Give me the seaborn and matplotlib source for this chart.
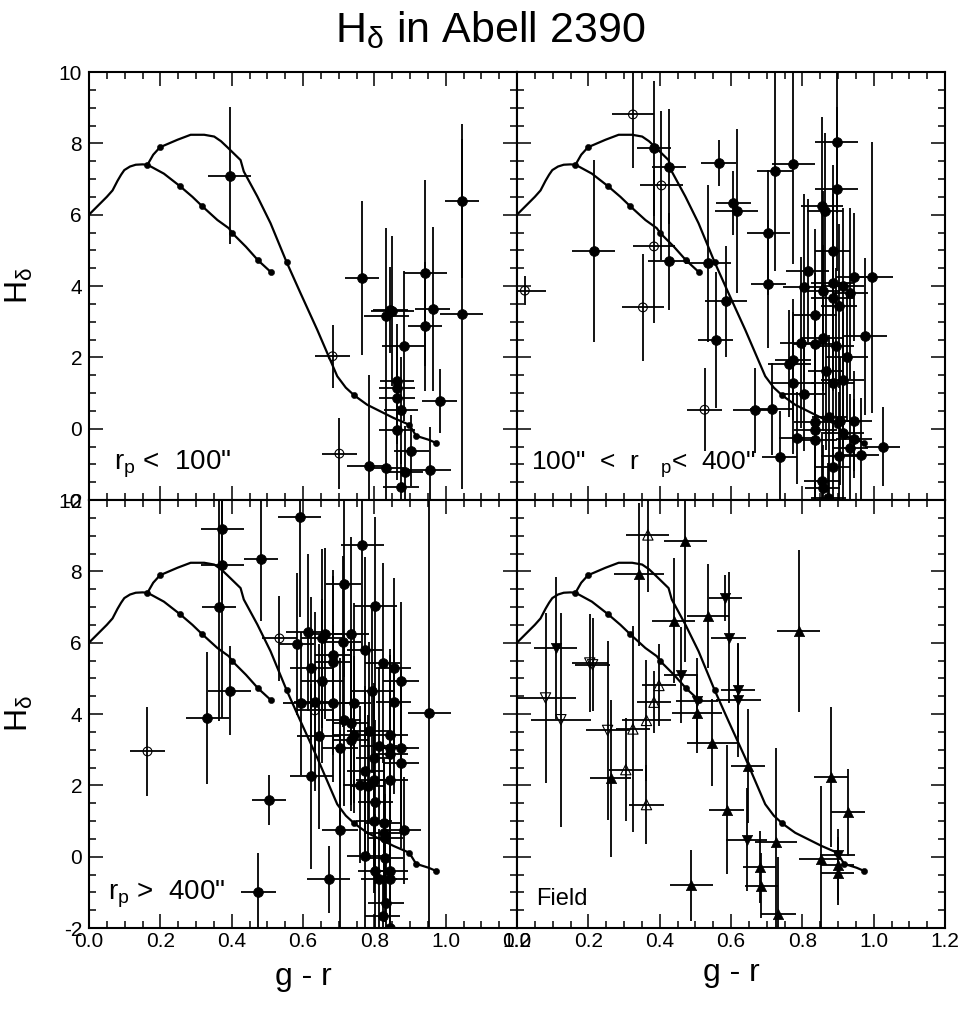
import numpy as np
import pandas as pd
import seaborn as sns
import matplotlib
matplotlib.use('Agg')
import matplotlib.pyplot as plt
from matplotlib.ticker import MultipleLocator, FormatStrFormatter

sns.set_style('ticks')
plt.rcParams['font.family'] = ['Liberation Sans', 'DejaVu Sans']
plt.rcParams['axes.unicode_minus'] = False
plt.rcParams['mathtext.default'] = 'regular'
for k in ['text.color', 'axes.labelcolor', 'xtick.color', 'ytick.color', 'axes.edgecolor']:
    plt.rcParams[k] = 'black'

# trajetorias do modelo (iguais nos 4 paineis)
mod1_x = [0.0, 0.03, 0.05, 0.066, 0.08, 0.09, 0.099, 0.115, 0.131, 0.15, 0.164, 0.21, 0.255, 0.29, 0.316,
          0.36, 0.392, 0.402, 0.44, 0.474, 0.511]
mod1_y = [6.0, 6.3, 6.5, 6.68, 6.95, 7.12, 7.25, 7.35, 7.4, 7.41, 7.4, 7.15, 6.8, 6.5, 6.25,
          5.85, 5.62, 5.48, 5.1, 4.72, 4.38]
mod1_dot_x = [0.164, 0.255, 0.316, 0.402, 0.474, 0.511]
mod1_dot_y = [7.4, 6.8, 6.25, 5.48, 4.72, 4.38]
mod2_x = [0.164, 0.18, 0.199, 0.248, 0.285, 0.323, 0.351, 0.37, 0.388, 0.425, 0.434, 0.472, 0.509, 0.554,
          0.593, 0.64, 0.668, 0.696, 0.72, 0.744, 0.78, 0.854, 0.898, 0.917, 0.952, 0.973]
mod2_y = [7.4, 7.68, 7.89, 8.1, 8.24, 8.24, 8.19, 8.06, 7.89, 7.53, 7.21, 6.51, 5.76, 4.67,
          3.8, 2.77, 2.12, 1.47, 1.15, 0.93, 0.67, 0.3, 0.11, -0.2, -0.31, -0.4]
mod2_dot_x = [0.199, 0.554, 0.744, 0.898, 0.917, 0.973]
mod2_dot_y = [7.89, 4.67, 0.93, 0.11, -0.2, -0.4]

# painel 1: r_p < 100"
a_fill_x = [0.395, 0.766, 1.045, 1.045, 0.943, 0.964, 0.943, 0.845, 0.834, 0.850, 0.882, 0.864, 0.864, 0.864,
            0.875, 0.864, 0.983, 0.904, 0.784, 0.834, 0.886, 0.955, 0.875]
a_fill_y = [7.09, 4.22, 6.38, 3.22, 4.36, 3.36, 2.87, 3.33, 3.15, 3.30, 2.32, 1.33, 1.14, 0.86,
            0.51, -0.03, 0.78, -0.62, -1.04, -1.10, -1.22, -1.15, -1.63]
a_fill_xe = [0.06, 0.048, 0.048, 0.06, 0.06, 0.049, 0.048, 0.049, 0.063, 0.06, 0.06, 0.048, 0.05, 0.05,
             0.048, 0.05, 0.048, 0.05, 0.06, 0.05, 0.05, 0.06, 0.05]
a_fill_ye = [1.92, 2.16, 2.16, 4.9, 2.6, 2.3, 1.8, 1.2, 2.47, 2.1, 2.1, 1.6, 1.2, 1.3,
             1.5, 1.4, 0.89, 1.0, 2.55, 1.8, 1.3, 1.2, 1.0]
a_open_x = [0.683, 0.702]
a_open_y = [2.03, -0.70]
a_open_xe = [0.048, 0.048]
a_open_ye = [0.89, 1.0]

# painel 2: 100" < r_p < 400"
b_fill_x = [0.215, 0.384, 0.426, 0.426, 0.535, 0.565, 0.607, 0.616, 0.724, 0.775, 0.705, 0.705, 0.586, 0.557,
            0.666, 0.714, 0.736, 0.896, 0.896, 0.855, 0.864, 0.885, 0.815, 0.806, 0.857, 0.885, 0.913, 0.945,
            0.995, 0.933, 0.885, 0.903, 0.836, 0.796, 0.836, 0.857, 0.894, 0.976, 0.925, 0.773, 0.764, 0.866,
            0.773, 0.885, 0.913, 0.806, 0.836, 0.876, 0.836, 0.907, 0.944, 0.913, 0.784, 0.836, 0.945, 0.933,
            1.025, 0.964, 0.903, 0.885, 0.855, 0.857, 0.873]
b_fill_y = [4.99, 7.86, 7.35, 4.69, 4.64, 7.45, 6.32, 6.09, 7.23, 7.42, 5.50, 4.05, 3.57, 2.49,
            0.51, 0.55, -0.80, 8.05, 6.71, 6.25, 6.09, 4.99, 4.43, 3.97, 3.87, 4.08, 3.99, 4.25,
            4.25, 3.80, 3.66, 3.43, 3.19, 2.41, 2.37, 2.54, 2.31, 2.59, 2.00, 1.93, 1.82, 1.61,
            1.28, 1.29, 1.37, 0.97, 0.20, 0.32, -0.03, 0.22, 0.22, -0.12, -0.26, -0.31, -0.28, -0.54,
            -0.50, -0.75, -0.78, -1.07, -1.46, -1.66, -1.95]
b_fill_xe = [0.06, 0.048, 0.048, 0.06, 0.065, 0.05, 0.05, 0.06, 0.05, 0.06, 0.06, 0.05, 0.06, 0.05,
             0.06, 0.06, 0.05, 0.06, 0.06, 0.06, 0.05, 0.05, 0.06, 0.06, 0.05, 0.06, 0.06, 0.05,
             0.06, 0.05, 0.06, 0.05, 0.06, 0.06, 0.06, 0.06, 0.05, 0.06, 0.06, 0.05, 0.06, 0.05,
             0.06, 0.06, 0.06, 0.06, 0.06, 0.05, 0.06, 0.05, 0.05, 0.06, 0.05, 0.06, 0.05, 0.05,
             0.048, 0.05, 0.05, 0.05, 0.05, 0.05, 0.05]
b_fill_ye = [2.55, 1.9, 1.6, 1.35, 2.2, 0.65, 0.9, 2.3, 2.8, 2.8, 1.75, 1.8, 1.55, 1.9,
             1.2, 1.3, 1.3, 2.0, 2.3, 2.5, 2.2, 2.4, 2.0, 2.6, 2.8, 2.5, 2.2, 1.8,
             3.8, 2.4, 2.6, 2.3, 2.4, 2.4, 2.0, 2.6, 2.2, 2.2, 1.8, 1.7, 1.5, 2.2,
             2.0, 2.3, 1.9, 1.6, 2.0, 2.3, 2.2, 1.8, 1.4, 2.0, 1.3, 2.0, 1.1, 1.5,
             1.1, 1.6, 1.8, 1.5, 1.3, 1.2, 1.0]
b_open_x = [0.325, 0.405, 0.384, 0.353, 0.022, 0.526]
b_open_y = [8.81, 6.82, 5.11, 3.40, 3.87, 0.53]
b_open_xe = [0.06, 0.06, 0.06, 0.06, 0.06, 0.048]
b_open_ye = [1.5, 2.1, 2.15, 1.5, 0.4, 1.17]

# painel 3: r_p > 400"
c_fill_x = [0.374, 0.374, 0.365, 0.332, 0.395, 0.483, 0.504, 0.475, 0.591, 0.582, 0.613, 0.663, 0.654, 0.623,
            0.684, 0.684, 0.654, 0.593, 0.635, 0.683, 0.644, 0.623, 0.672, 0.703, 0.714, 0.766, 0.803, 0.735,
            0.713, 0.773, 0.823, 0.854, 0.875, 0.794, 0.742, 0.854, 0.714, 0.735, 0.744, 0.735, 0.703, 0.784,
            0.845, 0.814, 0.845, 0.875, 0.845, 0.875, 0.798, 0.773, 0.761, 0.781, 0.798, 0.845, 0.803, 0.799,
            0.826, 0.882, 0.826, 0.831, 0.773, 0.831, 0.803, 0.845, 0.814, 0.845, 0.833, 0.823, 0.843, 0.954]
c_fill_y = [9.19, 8.18, 7.01, 3.88, 4.65, 8.35, 1.58, -0.99, 9.53, 5.96, 6.29, 6.25, 6.12, 5.28,
            5.66, 5.45, 4.93, 4.30, 4.35, 4.30, 3.37, 2.25, -0.64, 0.74, 7.64, 8.74, 7.03, 6.25,
            6.03, 5.80, 5.43, 5.30, 4.93, 4.65, 4.31, 4.35, 3.82, 3.74, 3.42, 3.28, 3.06, 3.51,
            3.42, 3.11, 3.05, 3.04, 2.87, 2.64, 2.76, 2.39, 2.02, 1.97, 2.15, 2.15, 1.52, 0.99,
            0.94, 0.74, 0.66, 0.52, 0.01, -0.04, -0.41, -0.41, -0.62, -0.62, -1.30, -1.67, -2.00, 4.04]
c_fill_xe = [0.06, 0.06, 0.048, 0.06, 0.06, 0.048, 0.048, 0.048, 0.06, 0.05, 0.06, 0.05, 0.06, 0.06,
             0.05, 0.05, 0.06, 0.05, 0.06, 0.05, 0.06, 0.06, 0.06, 0.05, 0.05, 0.06, 0.06, 0.05,
             0.05, 0.05, 0.05, 0.05, 0.05, 0.06, 0.05, 0.05, 0.05, 0.05, 0.06, 0.05, 0.05, 0.06,
             0.05, 0.05, 0.05, 0.05, 0.05, 0.05, 0.05, 0.05, 0.05, 0.05, 0.05, 0.05, 0.05, 0.05,
             0.05, 0.05, 0.05, 0.05, 0.05, 0.05, 0.05, 0.05, 0.05, 0.05, 0.05, 0.05, 0.05, 0.06]
c_fill_ye = [2.0, 4.3, 3.2, 1.85, 1.25, 1.75, 0.7, 1.1, 2.8, 2.0, 2.2, 2.4, 2.5, 2.0,
             2.2, 2.6, 2.3, 2.0, 2.5, 2.2, 2.6, 2.6, 0.95, 2.8, 2.6, 2.9, 2.5, 2.7,
             2.4, 2.6, 2.8, 2.5, 2.2, 2.3, 2.8, 2.6, 2.4, 2.3, 2.2, 2.0, 2.5, 2.5,
             2.4, 2.2, 2.6, 2.2, 2.0, 2.4, 2.1, 2.4, 2.2, 2.0, 2.5, 2.0, 2.3, 2.0,
             1.8, 1.5, 2.0, 1.6, 2.3, 1.8, 1.6, 1.5, 1.4, 1.6, 1.2, 1.0, 1.0, 7.0]
c_open_x = [0.164, 0.534, 0.633]
c_open_y = [2.95, 6.12, 4.10]
c_open_xe = [0.048, 0.05, 0.05]
c_open_ye = [1.24, 1.2, 1.2]

# painel 4: campo (triangulos)
d_up_x = [0.342, 0.472, 0.439, 0.535, 0.790, 0.505, 0.546, 0.647, 0.263, 0.588, 0.880, 0.927, 0.726, 0.680,
          0.685, 0.489, 0.733, 0.852, 0.899, 0.899]
d_up_y = [7.92, 8.86, 6.61, 6.75, 6.34, 4.02, 3.20, 2.53, 2.20, 1.32, 2.23, 1.25, 0.40, -0.29,
          -0.81, -0.80, -1.61, -0.06, -0.46, -0.22]
d_up_xe = [0.07, 0.06, 0.06, 0.058, 0.06, 0.07, 0.07, 0.048, 0.057, 0.049, 0.048, 0.048, 0.06, 0.047,
           0.047, 0.061, 0.048, 0.06, 0.047, 0.047]
d_up_ye = [2.0, 3.4, 1.75, 1.45, 2.27, 1.1, 1.23, 1.6, 2.2, 1.8, 1.97, 1.22, 2.64, 1.0,
           0.9, 1.0, 1.6, 2.05, 0.9, 1.0]
d_dn_x = [0.109, 0.584, 0.593, 0.459, 0.505, 0.619, 0.621, 0.644, 0.899]
d_dn_y = [5.85, 7.26, 6.14, 5.10, 4.37, 4.66, 4.40, 0.48, 0.06]
d_dn_xe = [0.06, 0.047, 0.048, 0.048, 0.058, 0.048, 0.062, 0.058, 0.05]
d_dn_ye = [2.0, 0.65, 1.84, 1.35, 1.2, 1.3, 1.6, 1.45, 0.5]
d_up_open_x = [0.367, 0.398, 0.384, 0.363, 0.325, 0.305, 0.363]
d_up_open_y = [9.02, 4.80, 4.33, 3.82, 3.58, 2.44, 1.46]
d_up_open_xe = [0.06, 0.048, 0.048, 0.07, 0.048, 0.048, 0.048]
d_up_open_ye = [1.6, 1.15, 0.87, 1.7, 2.9, 1.45, 1.1]
d_dn_open_x = [0.080, 0.123, 0.204, 0.212, 0.254]
d_dn_open_y = [4.45, 3.84, 5.43, 5.38, 3.54]
d_dn_open_xe = [0.085, 0.085, 0.05, 0.05, 0.06]
d_dn_open_ye = [2.38, 3.0, 1.38, 1.3, 2.5]


def desenha_grupo(ax, x, y, xe, ye, marker, cheio, s):
    ax.errorbar(x, y, xerr=xe, yerr=ye, fmt='none', ecolor='k', elinewidth=1.3, capsize=0, zorder=2)
    if cheio:
        sns.scatterplot(x=x, y=y, marker=marker, s=s, color='k', edgecolor='k', linewidth=0.5, ax=ax, zorder=3)
    else:
        sns.scatterplot(x=x, y=y, marker=marker, s=s, color='k', facecolor='none', edgecolor='k',
                        linewidth=0.8, ax=ax, zorder=3)


def desenha_modelo(ax):
    sns.lineplot(x=mod1_x, y=mod1_y, sort=False, estimator=None, color='k', lw=1.6, ax=ax, zorder=4)
    sns.lineplot(x=mod2_x, y=mod2_y, sort=False, estimator=None, color='k', lw=1.6, ax=ax, zorder=4)
    sns.scatterplot(x=mod1_dot_x + mod2_dot_x, y=mod1_dot_y + mod2_dot_y, s=20, color='k',
                    edgecolor='k', ax=ax, zorder=5)


fig = plt.figure(figsize=(9.68, 10.15), dpi=100)
W, H = 968, 1015
x0s = [89, 517]
y0s = [72, 500]
pw, ph = 428, 428

axes = {}
for i, yt in enumerate(y0s):
    for j, xl in enumerate(x0s):
        ax = fig.add_axes([xl / W, 1 - (yt + ph) / H, pw / W, ph / H])
        axes[(i, j)] = ax

paineis = {
    (0, 0): [(a_fill_x, a_fill_y, a_fill_xe, a_fill_ye, 'o', True, 50),
             (a_open_x, a_open_y, a_open_xe, a_open_ye, 'o', False, 40)],
    (0, 1): [(b_fill_x, b_fill_y, b_fill_xe, b_fill_ye, 'o', True, 50),
             (b_open_x, b_open_y, b_open_xe, b_open_ye, 'o', False, 40)],
    (1, 0): [(c_fill_x, c_fill_y, c_fill_xe, c_fill_ye, 'o', True, 50),
             (c_open_x, c_open_y, c_open_xe, c_open_ye, 'o', False, 40)],
    (1, 1): [(d_up_x, d_up_y, d_up_xe, d_up_ye, '^', True, 55),
             (d_dn_x, d_dn_y, d_dn_xe, d_dn_ye, 'v', True, 55),
             (d_up_open_x, d_up_open_y, d_up_open_xe, d_up_open_ye, '^', False, 55),
             (d_dn_open_x, d_dn_open_y, d_dn_open_xe, d_dn_open_ye, 'v', False, 55)],
}
rotulos = {
    (0, 0): (0.07, -1.0, 'r$_\\mathregular{p}$ <  100"', 20),
    (0, 1): (0.038, -1.0, '100"  <  r   $_\\mathregular{p}$<  400"', 19),
    (1, 0): (0.052, -1.05, 'r$_\\mathregular{p}$ >  400"', 20),
    (1, 1): (0.055, -1.2, 'Field', 17),
}

for (i, j), ax in axes.items():
    for g in paineis[(i, j)]:
        desenha_grupo(ax, *g)
    desenha_modelo(ax)
    tx, ty, txt, fs = rotulos[(i, j)]
    ax.text(tx, ty, txt, fontsize=fs, va='center', ha='left')

    ax.set_xlim(0, 1.2)
    ax.set_ylim(-2, 10)
    ax.xaxis.set_major_locator(MultipleLocator(0.2))
    ax.xaxis.set_minor_locator(MultipleLocator(0.05))
    ax.yaxis.set_major_locator(MultipleLocator(2))
    ax.yaxis.set_minor_locator(MultipleLocator(0.5))
    ax.xaxis.set_major_formatter(FormatStrFormatter('%.1f'))
    ax.yaxis.set_major_formatter(FormatStrFormatter('%d'))
    ax.tick_params(which='both', direction='in', top=True, right=True, width=1.1, labelsize=15,
                   labelbottom=(i == 1), labelleft=(j == 0), colors='k')
    ax.tick_params(axis='y', pad=5)
    ax.tick_params(axis='x', pad=3)
    ax.tick_params(which='major', length=10)
    ax.tick_params(which='minor', length=5)
    for sp in ax.spines.values():
        sp.set_linewidth(1.5)
        sp.set_visible(True)
        sp.set_color('k')
    ax.set_xlabel('')
    ax.set_ylabel('')
    if j == 0:
        ax.set_ylabel('H$_\\mathregular{\\delta}$', fontsize=23)
        ax.yaxis.set_label_coords(-0.125, 0.5)
    if i == 1:
        ax.set_xlabel('g - r', fontsize=23)
        ax.xaxis.set_label_coords(0.5, -0.08 if j == 0 else -0.07)

fig.text(0.506, 1 - 42 / H, 'H$_\\mathregular{\\delta}$ in Abell 2390', fontsize=31, ha='center', va='baseline')

fig.savefig('out.png', dpi=100)
